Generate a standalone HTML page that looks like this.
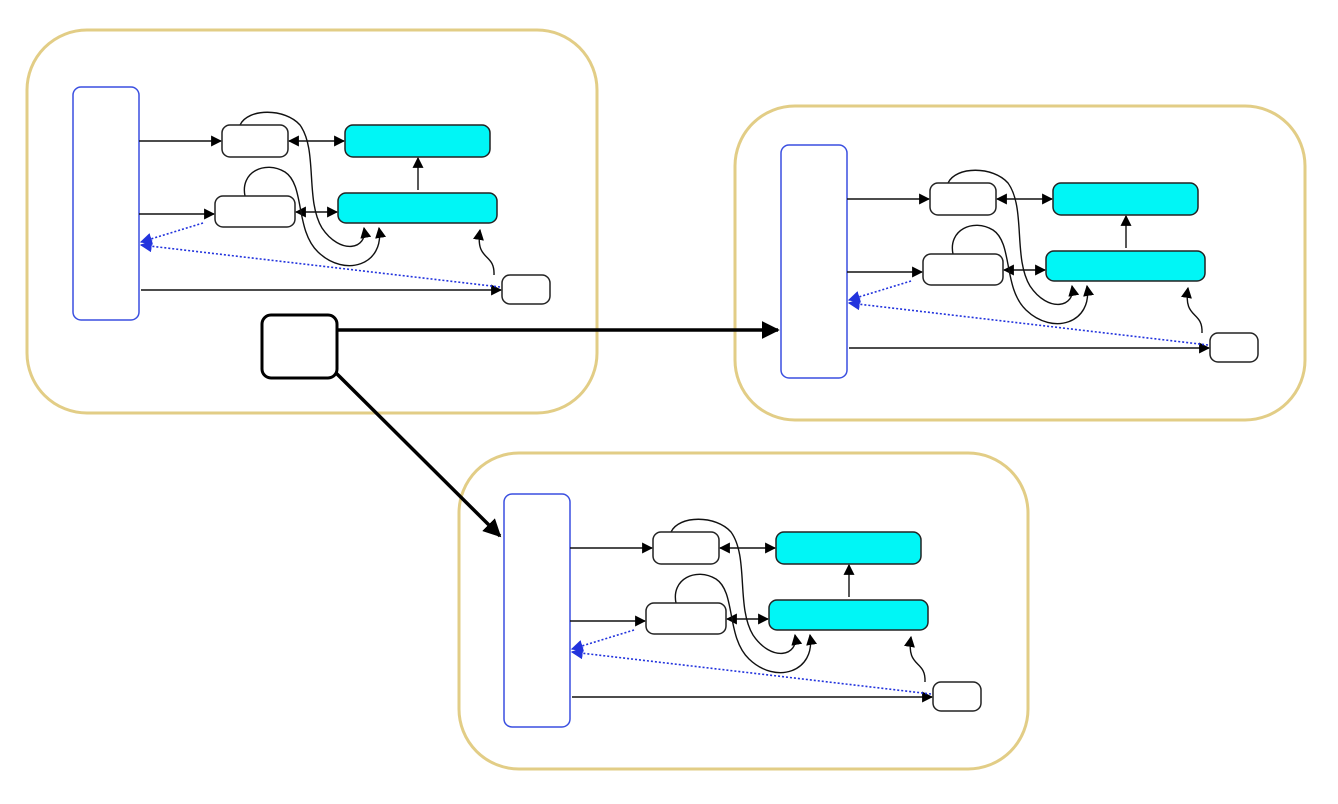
<!DOCTYPE html>
<html><head><meta charset="utf-8"><style>html,body{margin:0;padding:0;background:#fff;width:1338px;height:804px;overflow:hidden}</style></head>
<body>
<svg width="1338" height="804" viewBox="0 0 1338 804" xmlns="http://www.w3.org/2000/svg">
<defs>
<marker id="a" viewBox="0 0 10 10" refX="9" refY="5" markerWidth="11" markerHeight="11" markerUnits="userSpaceOnUse" orient="auto-start-reverse"><path d="M0,0L10,5L0,10z" fill="#000"/></marker>
<marker id="b" viewBox="0 0 10 10" refX="9" refY="5" markerWidth="12" markerHeight="12" markerUnits="userSpaceOnUse" orient="auto"><path d="M0,0L10,5L0,10z" fill="#2233dd"/></marker>
<marker id="c" viewBox="0 0 10 10" refX="9" refY="5" markerWidth="18" markerHeight="18" markerUnits="userSpaceOnUse" orient="auto"><path d="M0,0L10,5L0,10z" fill="#000"/></marker>
<g id="cl">
<rect x="73" y="87" width="66" height="233" rx="8" fill="#fff" stroke="#3a4fe0" stroke-width="1.5"/>
<g fill="none" stroke="#111" stroke-width="1.4">
<line x1="139" y1="141" x2="221" y2="141" marker-end="url(#a)"/>
<line x1="139" y1="214" x2="214" y2="214" marker-end="url(#a)"/>
<line x1="141" y1="290" x2="501" y2="290" marker-end="url(#a)"/>
<line x1="289" y1="141" x2="344" y2="141" marker-start="url(#a)" marker-end="url(#a)"/>
<line x1="296" y1="212" x2="337" y2="212" marker-start="url(#a)" marker-end="url(#a)"/>
<line x1="418" y1="190" x2="418" y2="158" marker-end="url(#a)"/>
<path d="M240,125 C248,108 285,108 300,125 C318,150 305,200 322,228 C340,255 368,250 364,228" marker-end="url(#a)"/>
<path d="M245,196 C240,172 265,160 285,172 C305,185 295,230 318,252 C345,278 385,265 379,228" marker-end="url(#a)"/>
<path d="M494,275 C495,252 475,262 480,230" marker-end="url(#a)"/>
</g>
<g fill="none" stroke="#2233dd" stroke-width="1.6" stroke-dasharray="2,2">
<line x1="203" y1="223" x2="141" y2="242" marker-end="url(#b)"/>
<line x1="500" y1="287" x2="141" y2="245" marker-end="url(#b)"/>
</g>
<g stroke="#222" stroke-width="1.5">
<rect x="222" y="125" width="66" height="32" rx="8" fill="#fff"/>
<rect x="215" y="196" width="80" height="31" rx="8" fill="#fff"/>
<rect x="502" y="275" width="48" height="29" rx="8" fill="#fff"/>
<rect x="345" y="125" width="145" height="32" rx="8" fill="#00f6f6"/>
<rect x="338" y="193" width="159" height="30" rx="8" fill="#00f6f6"/>
</g>
</g>
</defs>
<g fill="none" stroke="#e2cd86" stroke-width="3">
<rect x="27" y="30" width="570" height="383" rx="60"/>
<rect x="735" y="106" width="570" height="314" rx="60"/>
<rect x="459" y="453" width="569" height="316" rx="60"/>
</g>
<use href="#cl"/>
<use href="#cl" transform="translate(708,58)"/>
<use href="#cl" transform="translate(431,407)"/>
<g stroke="#000" stroke-width="3.5" fill="none">
<line x1="337" y1="330" x2="778" y2="330" marker-end="url(#c)"/>
<line x1="333" y1="370" x2="500" y2="536" marker-end="url(#c)"/>
<rect x="262" y="315" width="75" height="63" rx="9" fill="#fff" stroke-width="3"/>
</g>
</svg>
</body></html>
